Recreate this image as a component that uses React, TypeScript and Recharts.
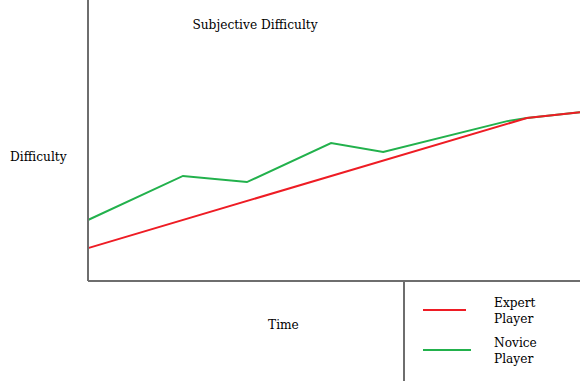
import { LineChart, Line, XAxis, YAxis } from "recharts";

// time (0-10) vs difficulty (0-10)
const expertTime = [0, 8.92, 10];
const expertDifficulty = [1.17, 5.8, 6.01];

const noviceTime = [0, 1.93, 3.23, 4.94, 6.0, 8.52, 8.92, 10];
const noviceDifficulty = [2.17, 3.74, 3.52, 4.91, 4.59, 5.69, 5.8, 6.01];

const legendItems = [
  { lines: ["Expert", "Player"], color: "#ee1c24", len: 43 },
  { lines: ["Novice", "Player"], color: "#22b14c", len: 48 },
];

const expert = expertTime.map((t, i) => ({ t, v: expertDifficulty[i] }));
const novice = noviceTime.map((t, i) => ({ t, v: noviceDifficulty[i] }));

const FONT = "'DejaVu Serif', serif";
const AXIS = "#6e6e6e";
const FS = 12.2;

export default function App() {
  return (
    <div style={{ position: "absolute", left: 0, top: 0, width: 580, height: 381, background: "#fff", fontFamily: FONT }}>
      <LineChart width={580} height={381} margin={{ top: 0, right: 0, bottom: 99, left: 87 }}>
        <XAxis
          type="number"
          dataKey="t"
          domain={[0, 10]}
          tick={false}
          tickLine={false}
          height={1}
          axisLine={{ stroke: AXIS, strokeWidth: 2 }}
        />
        <YAxis
          type="number"
          dataKey="v"
          domain={[0, 10]}
          tick={false}
          tickLine={false}
          width={1}
          axisLine={{ stroke: AXIS, strokeWidth: 2 }}
        />
        <Line data={novice} dataKey="v" stroke="#22b14c" strokeWidth={2} dot={false} isAnimationActive={false} />
        <Line data={expert} dataKey="v" stroke="#ee1c24" strokeWidth={2} dot={false} isAnimationActive={false} />
      </LineChart>

      {/* title + axis labels */}
      <div style={{ position: "absolute", left: 0, width: 510, top: 18, textAlign: "center", fontSize: FS, color: "#000" }}>
        Subjective Difficulty
      </div>
      <div style={{ position: "absolute", left: 10, top: 150, fontSize: FS, color: "#000" }}>Difficulty</div>
      <div style={{ position: "absolute", left: 268, top: 318, fontSize: FS, color: "#000" }}>Time</div>

      {/* legend box divider */}
      <div style={{ position: "absolute", left: 403, top: 281, width: 2, height: 100, background: AXIS }} />

      {legendItems.map((item, i) => (
        <div key={i} style={{ position: "absolute", left: 423, top: 294 + i * 40, height: 34 }}>
          <div style={{ position: "absolute", left: 0, top: 15, width: item.len, height: 2, background: item.color }} />
          <div style={{ position: "absolute", left: 71, top: 1, fontSize: FS, lineHeight: "16px", color: "#000" }}>
            {item.lines.map((l) => (
              <div key={l}>{l}</div>
            ))}
          </div>
        </div>
      ))}
    </div>
  );
}
